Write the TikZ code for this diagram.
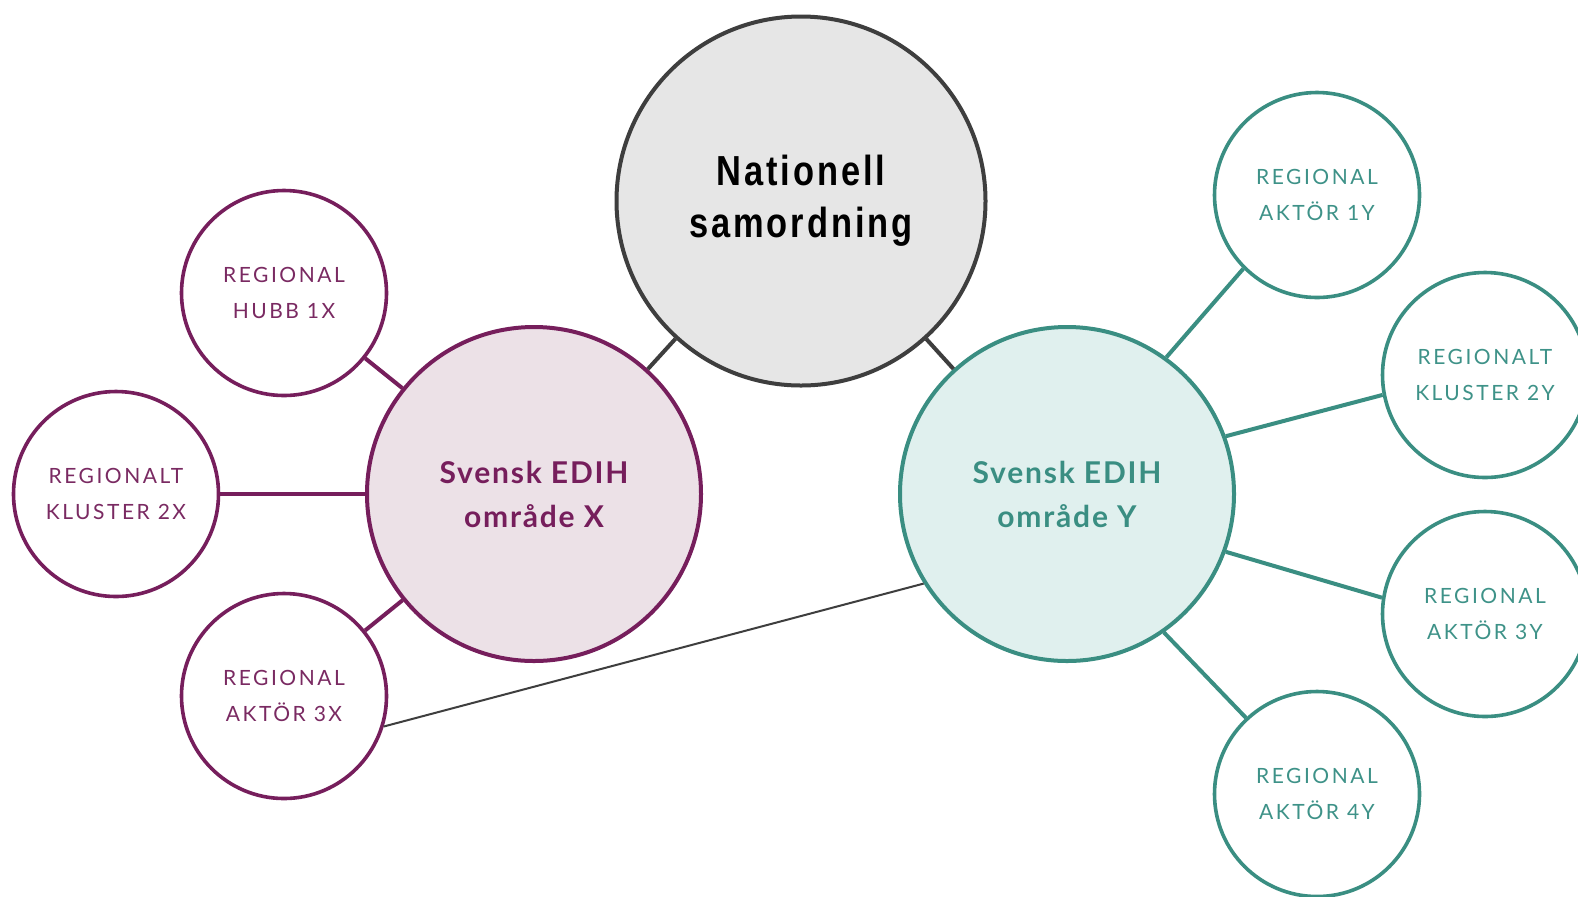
\documentclass[tikz,border=0pt]{standalone}
\usepackage{fontspec}
\setmainfont{Lato}
\newfontfamily\natfont[FakeStretch=0.82,LetterSpace=7]{Liberation Sans}
\newfontfamily\edihfont[LetterSpace=6]{Lato}
\newfontfamily\satfont[LetterSpace=12]{Lato}
\definecolor{purp}{RGB}{118,30,92}
\definecolor{purpfill}{RGB}{236,225,231}
\definecolor{purptext}{RGB}{122,42,98}
\definecolor{teal1}{RGB}{58,142,130}
\definecolor{tealfill}{RGB}{224,240,238}
\definecolor{tealtext}{RGB}{62,146,136}
\definecolor{natgray}{RGB}{62,62,62}
\definecolor{natfill}{RGB}{230,230,230}
\tikzset{
  natnode/.style={circle, draw=natgray, fill=natfill, line width=2pt, minimum size=184.5pt, inner sep=0pt,
    align=center, font={\natfont\bfseries\fontsize{21}{26}\selectfont}, text=black},
  xhub/.style={circle, draw=purp, fill=purpfill, line width=2pt, minimum size=167pt, inner sep=0pt,
    align=center, font={\edihfont\bfseries\fontsize{15}{22}\selectfont}, text=purp},
  yhub/.style={circle, draw=teal1, fill=tealfill, line width=2pt, minimum size=167pt, inner sep=0pt,
    align=center, font={\edihfont\bfseries\fontsize{15}{22}\selectfont}, text=teal1},
  xsat/.style={circle, draw=purp, fill=white, line width=1.8pt, minimum size=102.5pt, inner sep=0pt,
    align=center, font={\satfont\fontsize{10.5}{18}\selectfont}, text=purptext},
  ysat/.style={circle, draw=teal1, fill=white, line width=1.8pt, minimum size=102.5pt, inner sep=0pt,
    align=center, font={\satfont\fontsize{10.5}{18}\selectfont}, text=tealtext},
  xlink/.style={draw=purp, line width=2pt},
  ylink/.style={draw=teal1, line width=2pt},
  nlink/.style={draw=natgray, line width=2pt},
  thinlink/.style={draw=natgray, line width=1pt}
}
\begin{document}
\begin{tikzpicture}[x=0.5pt,y=-0.5pt]
\useasboundingbox (0,0) rectangle (1578,896);
\clip (0,0) rectangle (1578,896);
\fill[white] (0,0) rectangle (1578,896);
% links first (behind nodes) using coordinates, nodes drawn after
\node[natnode] (nat) at (801,201) {Nationell\\samordning};
\node[xhub] (ex) at (534,494) {Svensk EDIH\\område X};
\node[yhub] (ey) at (1067,494) {Svensk EDIH\\område Y};
\node[xsat] (h1x) at (284,293) {REGIONAL\\HUBB 1X};
\node[xsat] (k2x) at (116,494) {REGIONALT\\KLUSTER 2X};
\node[xsat] (a3x) at (284,696) {REGIONAL\\AKTÖR 3X};
\node[ysat] (a1y) at (1317,195) {REGIONAL\\AKTÖR 1Y};
\node[ysat] (k2y) at (1485,375) {REGIONALT\\KLUSTER 2Y};
\node[ysat] (a3y) at (1485,614) {REGIONAL\\AKTÖR 3Y};
\node[ysat] (a4y) at (1317,794) {REGIONAL\\AKTÖR 4Y};
% connectors
\draw[nlink] (nat) -- (ex);
\draw[nlink] (nat) -- (ey);
\draw[xlink] (h1x) -- (ex);
\draw[xlink] (k2x) -- (ex);
\draw[xlink] (a3x) -- (ex);
\draw[ylink] (ey.54.4) -- (a1y.225.8);
\draw[ylink] (ey.20.4) -- (k2y.191.6);
\draw[ylink] (ey.-20.4) -- (a3y.171);
\draw[ylink] (ey.-55.3) -- (a4y.133.8);
\draw[thinlink] (a3x.-17) -- (ey.212.2);
\end{tikzpicture}
\end{document}
